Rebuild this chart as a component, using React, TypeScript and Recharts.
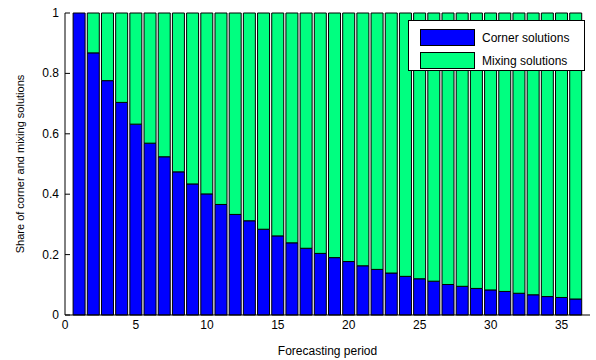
import { BarChart, Bar, XAxis, YAxis } from 'recharts'

const periods = [
  1, 2, 3, 4, 5, 6, 7, 8, 9, 10, 11, 12, 13, 14, 15, 16, 17, 18,
  19, 20, 21, 22, 23, 24, 25, 26, 27, 28, 29, 30, 31, 32, 33, 34, 35, 36,
]
const corner = [
  1.0, 0.868, 0.776, 0.704, 0.632, 0.569, 0.524, 0.474, 0.434, 0.401, 0.366, 0.333,
  0.312, 0.284, 0.262, 0.239, 0.221, 0.204, 0.19, 0.177, 0.163, 0.151, 0.139, 0.128,
  0.12, 0.112, 0.101, 0.095, 0.088, 0.083, 0.078, 0.072, 0.067, 0.061, 0.058, 0.053,
]
const mixing = [
  0.0, 0.132, 0.224, 0.296, 0.368, 0.431, 0.476, 0.526, 0.566, 0.599, 0.634, 0.667,
  0.688, 0.716, 0.738, 0.761, 0.779, 0.796, 0.81, 0.823, 0.837, 0.849, 0.861, 0.872,
  0.88, 0.888, 0.899, 0.905, 0.912, 0.917, 0.922, 0.928, 0.933, 0.939, 0.942, 0.947,
]
const xTicks = [0, 5, 10, 15, 20, 25, 30, 35]
const yTicks = [0, 0.2, 0.4, 0.6, 0.8, 1]
const seriesNames = ['Corner solutions', 'Mixing solutions']

const data = periods.map((p, i) => ({ period: p, corner: corner[i], mixing: mixing[i] }))

const FONT = '"Liberation Sans", Arial, sans-serif'
const BLUE = '#0000ff'
const GREEN = '#00ff80'

function YTick(props: any) {
  const { x, y, payload } = props
  return (
    <g>
      <line x1={x + 6} y1={y} x2={x + 11} y2={y} stroke="#000" />
      <text x={x} y={y} dy={4} textAnchor="end" fontSize={12} fill="#000" fontFamily={FONT}>
        {payload.value === 0 || payload.value === 1 ? payload.value : payload.value.toFixed(1)}
      </text>
    </g>
  )
}

function XTick(props: any) {
  const { x, y, payload } = props
  return (
    <text x={x} y={y} dy={10} textAnchor="middle" fontSize={12} fill="#000" fontFamily={FONT}>
      {payload.value}
    </text>
  )
}

function LegendBox() {
  const colors = [BLUE, GREEN]
  return (
    <div
      style={{
        position: 'absolute',
        left: 408,
        top: 20,
        width: 177,
        height: 51,
        border: '1px solid #000',
        background: '#fff',
        boxSizing: 'border-box',
        padding: '5px 0 0 11px',
        fontFamily: FONT,
        fontSize: 12,
      }}
    >
      {seriesNames.map((name, i) => (
        <div key={name} style={{ display: 'flex', alignItems: 'center', height: 23 }}>
          <div
            style={{
              width: 55,
              height: 17,
              background: colors[i],
              border: '1px solid #000',
              boxSizing: 'border-box',
              marginRight: 7,
            }}
          />
          <span>{name}</span>
        </div>
      ))}
    </div>
  )
}

export default function App() {
  return (
    <div style={{ position: 'absolute', left: 0, top: 0, width: 596, height: 360, background: '#fff' }}>
      <BarChart
        width={596}
        height={360}
        data={data}
        margin={{ top: 13, right: 6, left: 25, bottom: 15 }}
      >
        <XAxis
          type="number"
          dataKey="period"
          domain={[0, 37]}
          ticks={xTicks}
          tickSize={0}
          tickMargin={4}
          tickLine={false}
          tick={<XTick />}
          stroke="#000"
          height={30}
          allowDataOverflow
          label={{
            value: 'Forecasting period',
            position: 'insideBottom',
            offset: -10,
            fill: '#000',
            fontSize: 12,
            fontFamily: FONT,
          }}
        />
        <YAxis
          type="number"
          domain={[0, 1]}
          ticks={yTicks}
          tickSize={0}
          tickMargin={6}
          tickLine={false}
          tick={<YTick />}
          stroke="#000"
          width={40}
          label={{
            value: 'Share of corner and mixing solutions',
            angle: -90,
            position: 'insideLeft',
            offset: -5,
            style: { textAnchor: 'middle' },
            fill: '#000',
            fontSize: 11,
            fontFamily: FONT,
          }}
        />
        <Bar dataKey="corner" name={seriesNames[0]} stackId="s" fill={BLUE} stroke="#000" strokeWidth={1} barSize={12} isAnimationActive={false} />
        <Bar dataKey="mixing" name={seriesNames[1]} stackId="s" fill={GREEN} stroke="#000" strokeWidth={1} barSize={12} isAnimationActive={false} />
      </BarChart>
      <LegendBox />
    </div>
  )
}
